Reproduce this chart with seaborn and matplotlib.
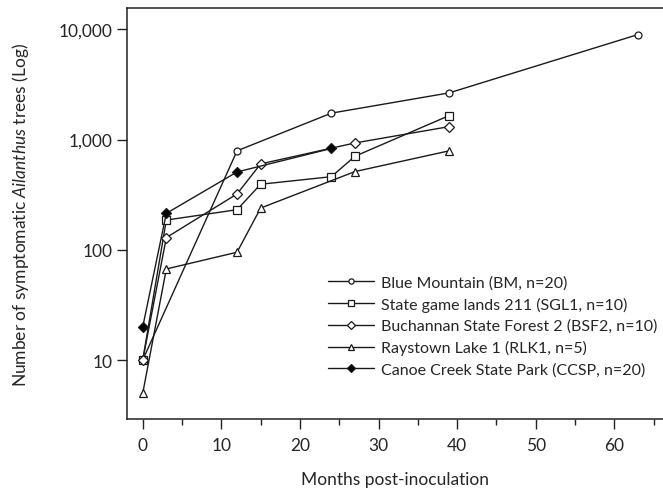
import pandas as pd
import matplotlib
matplotlib.use("Agg")
import matplotlib.pyplot as plt
import seaborn as sns
from matplotlib.ticker import FixedLocator, MultipleLocator, FuncFormatter, NullLocator

sns.set_style("ticks")
plt.rcParams["font.family"] = ["Lato", "DejaVu Sans"]
plt.rcParams["mathtext.fontset"] = "custom"
plt.rcParams["mathtext.rm"] = "Lato"
plt.rcParams["mathtext.it"] = "Lato:italic"

# -----------------------------------
# Data
# -----------------------------------
bm_months = [0, 12, 24, 39, 63]
bm_trees = [10, 790, 1735, 2650, 8950]

sgl_months = [0, 3, 12, 15, 24, 27, 39]
sgl_trees = [10, 186, 231, 393, 460, 705, 1650]

bsf_months = [0, 3, 12, 15, 27, 39]
bsf_trees = [10, 129, 321, 601, 931, 1310]

rlk_months = [0, 3, 12, 15, 27, 39]
rlk_trees = [5, 67, 95, 239, 512, 790]

ccsp_months = [0, 3, 12, 24]
ccsp_trees = [20, 214, 508, 830]

series = [
    ("Blue Mountain (BM, n=20)", bm_months, bm_trees, "o", 5, "white"),
    ("State game lands 211 (SGL1, n=10)", sgl_months, sgl_trees, "s", 5.5, "white"),
    ("Buchannan State Forest 2 (BSF2, n=10)", bsf_months, bsf_trees, "D", 5, "white"),
    ("Raystown Lake 1 (RLK1, n=5)", rlk_months, rlk_trees, "^", 6, "white"),
    ("Canoe Creek State Park (CCSP, n=20)", ccsp_months, ccsp_trees, "D", 5, "black"),
]

fig = plt.figure(figsize=(6.63, 4.89), dpi=100)
ax = fig.add_axes([0.1916, 0.141, 0.8084, 0.840])

for label, months, trees, mk, ms, face in series:
    df = pd.DataFrame({"month": months, "trees": trees})
    sns.lineplot(data=df, x="month", y="trees", ax=ax, color="#1a1a1a",
                 linewidth=1.0, marker=mk, markersize=ms,
                 markerfacecolor=face, markeredgecolor="#1a1a1a",
                 markeredgewidth=0.9, label=label)

ax.set_yscale("log")
ax.set_ylim(2.915, 15500)
ax.set_xlim(-2, 66.2)

ax.yaxis.set_major_locator(FixedLocator([10, 100, 1000, 10000]))
ax.yaxis.set_minor_locator(NullLocator())
ax.yaxis.set_major_formatter(FuncFormatter(lambda v, p: f"{int(round(v)):,}"))
ax.xaxis.set_major_locator(MultipleLocator(10))
ax.xaxis.set_minor_locator(MultipleLocator(5))

ax.tick_params(axis="both", which="major", labelsize=12.5, length=7, width=1, color="#222")
ax.tick_params(axis="x", which="minor", length=4, width=1, color="#222")
ax.tick_params(axis="x", pad=6)

for side in ["left", "bottom", "top"]:
    ax.spines[side].set_linewidth(1.1)
    ax.spines[side].set_color("#222")
ax.spines["right"].set_visible(False)

ax.set_xlabel("Months post-inoculation", fontsize=12.5, labelpad=13)
ax.set_ylabel(r"Number of symptomatic $\mathit{Ailanthus}$ trees (Log)", fontsize=12.5, labelpad=20)

ax.legend(loc="upper left", bbox_to_anchor=(0.4947, 0.4356), bbox_transform=fig.transFigure,
          frameon=False, fontsize=11.5, handlelength=2.9, handletextpad=0.4,
          labelspacing=0.45, borderpad=0, borderaxespad=0, markerscale=0.75)

fig.savefig("out.png", dpi=100)
